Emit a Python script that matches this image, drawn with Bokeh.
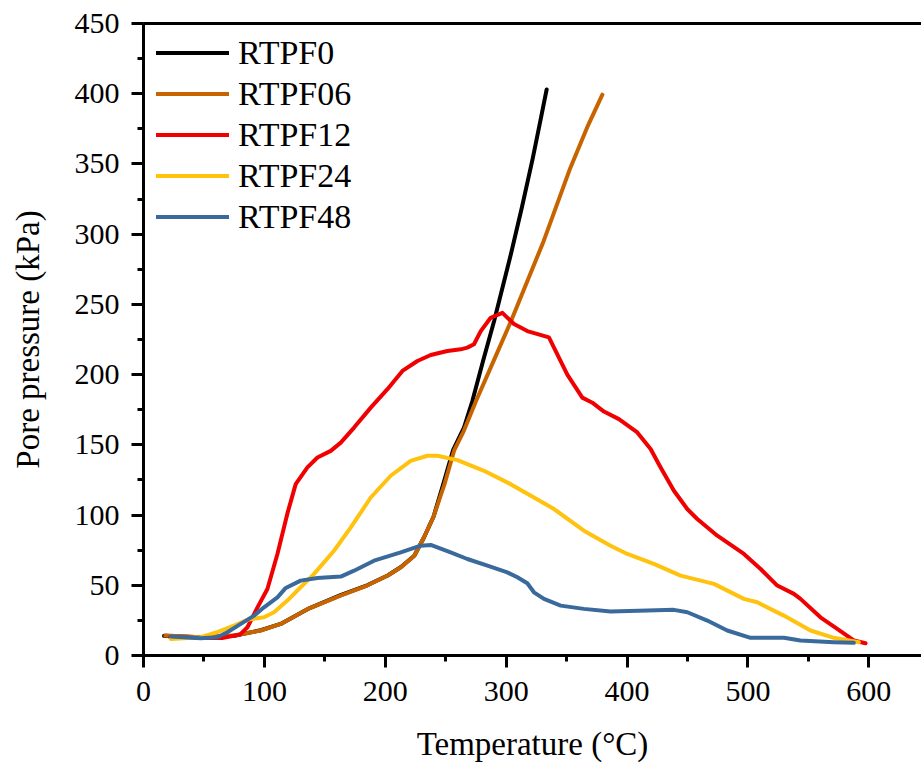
from bokeh.plotting import figure
from bokeh.models import Range1d, LinearAxis, FixedTicker, Legend, LegendItem, SingleIntervalTicker
from bokeh.embed import file_html
from bokeh.resources import INLINE

# ---- data ----
t0 = [17, 47, 75, 97, 113.5, 135.6, 163, 185, 202, 213, 224, 232, 240, 248, 256, 265,
      272, 281, 290, 304, 313, 322, 328.5, 333.5]
p0 = [14, 13, 14, 18, 22.5, 33, 43, 50, 57, 63, 71, 84, 99, 122, 146, 162,
      181, 210, 238, 286, 319, 354, 381.5, 403]

t06 = [18, 47, 75, 97, 113.5, 135.6, 163, 185, 202, 213, 224, 232, 240, 249, 257, 265,
       275, 290, 304, 331, 353, 367, 379.6]
p06 = [14.2, 13, 14.2, 17.8, 22.5, 33, 42.7, 49.8, 57, 62.8, 71, 84, 99, 122, 146, 160,
       181, 210.5, 238, 295, 347, 376, 399.3]

t12 = [22, 47, 65, 80, 86, 94.3, 102.5, 110.8, 119, 125.9, 135.6, 143.9, 154.9, 163.2,
       174.2, 188, 201.8, 214.2, 226.6, 237.6, 251.4, 262.4, 267.9, 273.4, 279, 287.2,
       296.9, 306.5, 317.5, 335.4, 350.6, 363, 371.3, 380.9, 393.3, 408.5, 419.5, 427.8,
       438.8, 449.8, 458.1, 474.7, 496.7, 510.5, 524.3, 538, 543.5, 560, 573.9, 587.6, 597.3]
p12 = [13, 12.5, 12.5, 15, 20.1, 34.3, 47.4, 72.3, 101, 122, 133.9, 141, 145.7, 151.6,
       162.3, 176.5, 189.6, 202.6, 209.7, 214, 216.8, 218, 219.2, 221.6, 231, 240.5,
       244, 236, 231, 226.5, 200, 183.6, 180, 173.7, 168.3, 158.8, 147, 133.9,
       117.3, 104.3, 97.2, 85.3, 72.3, 61.6, 49.8, 43.9, 40.3, 27.2, 19, 10.7, 8.7]

t24 = [22.6, 47.4, 61, 74.9, 86, 99.7, 108, 119, 130, 141.1, 157.6, 171.5, 188, 204.5,
       221, 234.9, 243.1, 259.7, 281.7, 303.7, 323, 339.6, 364.3, 386.4, 400.2, 422.2,
       444.3, 471.9, 496.7, 507.7, 529.7, 551.8, 571.1, 591.8]
p24 = [11.8, 13, 16.6, 21.3, 25.4, 27.2, 30.8, 39.1, 48.6, 58.1, 74.6, 91.2, 112.5, 128,
       138.6, 142.2, 142.2, 139.1, 131.5, 122, 112.5, 104.3, 88.9, 78.2, 72.3, 65.2,
       56.9, 51, 40.3, 37.9, 28.4, 17.8, 12.6, 9.5]

t48 = [22.6, 47.4, 61, 69.4, 80.5, 91.5, 99.7, 110.8, 117.7, 130, 143.9, 163.2, 174.2,
       190.7, 212.8, 229.3, 237.6, 254.1, 267.9, 284.5, 301, 309.3, 317.5, 323, 331.3,
       345.1, 364.3, 386.4, 416.8, 438.8, 449.9, 466.4, 482.9, 502.2, 516, 529.8,
       543.5, 571.1, 587.6]
p48 = [13.5, 12.3, 13, 16.6, 22.5, 28.4, 34.3, 41.4, 48.1, 53.3, 55.2, 56.2, 60.4,
       67.5, 73.4, 78.2, 78.7, 73.4, 68.7, 64, 59.2, 55.7, 51.4, 45, 40.3,
       35.5, 33.2, 31.3, 32, 32.5, 30.8, 24.9, 17.8, 12.6, 12.6, 12.6,
       10.7, 9.5, 9]

names = ["RTPF0", "RTPF06", "RTPF12", "RTPF24", "RTPF48"]
colors = ["#000000", "#C86400", "#F00000", "#FFC20E", "#396A9B"]
series = [(t0, p0), (t06, p06), (t12, p12), (t24, p24), (t48, p48)]

FONT = "Liberation Serif"

p = figure(width=921, height=769, output_backend="svg", toolbar_location=None,
           x_range=Range1d(0, 643.6), y_range=Range1d(0, 450),
           min_border_left=143, min_border_right=0, min_border_top=23, min_border_bottom=114)
p.xgrid.visible = False
p.ygrid.visible = False
p.outline_line_color = None
p.background_fill_color = "white"

renderers = []
for (xs, ys), c in zip(series, colors):
    r = p.line(xs, ys, line_color=c, line_width=4, line_cap="round", line_join="round")
    renderers.append(r)

for ax in (p.xaxis[0], p.yaxis[0]):
    ax.axis_line_width = 3
    ax.axis_line_color = "black"
    ax.major_tick_line_width = 3
    ax.minor_tick_line_width = 3
    ax.major_tick_line_color = "black"
    ax.minor_tick_line_color = "black"
    ax.major_tick_in = 0
    ax.major_tick_out = 12
    ax.minor_tick_in = 0
    ax.minor_tick_out = 6
    ax.major_label_text_font = FONT
    ax.major_label_text_font_size = "30px"
    ax.major_label_text_color = "black"
    ax.axis_label_text_font = FONT
    ax.axis_label_text_font_size = "33px"
    ax.axis_label_text_font_style = "normal"
    ax.axis_label_text_color = "black"

p.xaxis[0].ticker = SingleIntervalTicker(interval=100, num_minor_ticks=2)
p.yaxis[0].ticker = SingleIntervalTicker(interval=50, num_minor_ticks=2)
p.xaxis[0].axis_label = "Temperature (°C)"
p.yaxis[0].axis_label = "Pore pressure (kPa)"
p.xaxis[0].major_label_standoff = 14
p.xaxis[0].axis_label_standoff = 22
p.yaxis[0].major_label_standoff = 12
p.yaxis[0].axis_label_standoff = 26

top = LinearAxis(ticker=FixedTicker(ticks=[]), axis_line_width=3, axis_line_color="black",
                 major_tick_out=0, minor_tick_out=0, major_label_text_font_size="0px")
p.add_layout(top, "above")

items = [LegendItem(label=n, renderers=[r]) for n, r in zip(names, renderers)]
legend = Legend(items=items, location=(13, 418), margin=0, padding=5,
                label_text_font=FONT, label_text_font_size="34px", label_text_color="black",
                label_height=41, glyph_height=41, glyph_width=73, spacing=0,
                label_standoff=9, border_line_color=None, background_fill_alpha=0)
p.add_layout(legend, "center")

open("out.html", "w").write(file_html(p, INLINE))
